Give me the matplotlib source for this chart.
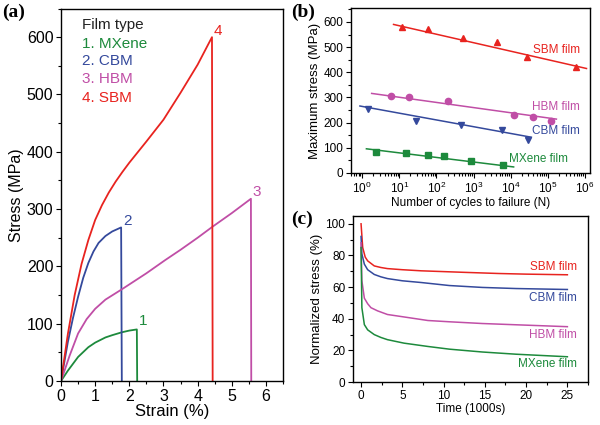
import numpy as np
import matplotlib
matplotlib.use("Agg")
import matplotlib.pyplot as plt
from matplotlib.ticker import MultipleLocator, LogLocator, NullFormatter

plt.rcParams['font.family'] = ['Liberation Sans', 'DejaVu Sans']

GREEN = '#1d8a3c'
BLUE = '#34499c'
MAGENTA = '#c04ea6'
RED = '#e8231f'

# ---------------- (a) stress-strain ----------------
mx_strain = [0, 0.2, 0.5, 0.8, 1.0, 1.3, 1.5, 1.78, 2.0, 2.22, 2.23]
mx_stress = [0, 18, 42, 59, 67, 76, 80, 85, 88, 90, 0]
cbm_strain = [0, 0.2, 0.35, 0.5, 0.65, 0.8, 0.95, 1.1, 1.3, 1.5, 1.76, 1.78]
cbm_stress = [0, 68, 110, 147, 180, 206, 226, 241, 253, 261, 268, 0]
hbm_strain = [0, 0.25, 0.5, 0.75, 1.0, 1.3, 1.78, 2.5, 3.05, 3.5, 4.0, 4.43, 5.0, 5.56, 5.57]
hbm_stress = [0, 44, 83, 108, 126, 142, 160, 188, 211, 229, 250, 269, 293, 318, 0]
sbm_strain = [0, 0.2, 0.4, 0.6, 0.8, 1.0, 1.2, 1.4, 1.6, 1.8, 2.0, 2.5, 3.0, 3.5, 4.0, 4.42, 4.44]
sbm_stress = [0, 82, 150, 204, 246, 281, 307, 329, 348, 365, 381, 418, 456, 503, 552, 600, 0]

# ---------------- (b) fatigue ----------------
sbm_n = [12, 60, 520, 4300, 27000, 570000]
sbm_max = [578, 570, 538, 522, 459, 422]
sbm_fit_n = [7, 1.1e6]
sbm_fit_s = [590, 415]
hbm_n = [5.8, 18, 210, 12500, 41000, 120000]
hbm_max = [306, 303, 284, 231, 222, 208]
hbm_fit_n = [1.8, 1.7e5]
hbm_fit_s = [316, 214]
cbm_n = [1.45, 28, 450, 6000, 30000]
cbm_max = [255, 208, 189, 171, 129]
cbm_fit_n = [0.87, 3.6e4]
cbm_fit_s = [266, 142]
mx_n = [2.3, 15, 59, 160, 870, 6200]
mx_max = [83, 78, 70, 67, 49, 32]
mx_fit_n = [1.3, 1.2e4]
mx_fit_s = [96, 24]

# ---------------- (c) stress relaxation ----------------
sbm_t = [0, 0.2, 0.5, 0.8, 1.6, 2.4, 3.2, 5.0, 7.3, 10.0, 12.7, 16.7, 20.0, 25.0]
sbm_rel = [100, 85, 79, 76.6, 73.4, 72.4, 71.7, 71.0, 70.3, 69.8, 69.3, 68.6, 68.2, 67.8]
cbm_t = [0, 0.1, 0.4, 0.8, 1.6, 2.4, 3.2, 5.0, 7.3, 10.7, 14.7, 18.8, 25.0]
cbm_rel = [92, 81, 74.5, 71, 68, 66.5, 65.4, 64.0, 62.9, 61.0, 59.8, 59.1, 58.5]
hbm_t = [0, 0.1, 0.4, 0.8, 1.2, 2.0, 3.2, 5.4, 8.1, 10.7, 14.7, 18.8, 25.0]
hbm_rel = [88, 64, 53, 49.5, 47, 45, 42.7, 41.0, 38.9, 38.1, 37, 36.2, 35.0]
mx_t = [0, 0.1, 0.4, 0.8, 1.6, 2.4, 3.2, 5.2, 8.1, 10.7, 14.7, 18.8, 25.0]
mx_rel = [85, 47, 36.3, 33, 30, 28.2, 26.8, 24.6, 22.5, 20.8, 19.0, 17.6, 16.0]

fig = plt.figure(figsize=(6, 4.25), dpi=100)


def style_axis(ax, size):
    for sp in ax.spines.values():
        sp.set_linewidth(1.0)
    ax.tick_params(which='both', direction='out', labelsize=size, width=0.8, pad=2)
    ax.tick_params(which='major', length=3.5)
    ax.tick_params(which='minor', length=2)


# panel (a)
ax1 = fig.add_axes([0.1017, 0.1035, 0.37, 0.8765])
ax1.plot(mx_strain, mx_stress, color=GREEN, lw=1.3)
ax1.plot(cbm_strain, cbm_stress, color=BLUE, lw=1.3)
ax1.plot(hbm_strain, hbm_stress, color=MAGENTA, lw=1.3)
ax1.plot(sbm_strain, sbm_stress, color=RED, lw=1.3)
ax1.set_xlim(0, 6.5)
ax1.set_ylim(0, 650)
ax1.xaxis.set_major_locator(MultipleLocator(1))
ax1.xaxis.set_minor_locator(MultipleLocator(0.5))
ax1.yaxis.set_major_locator(MultipleLocator(100))
ax1.yaxis.set_minor_locator(MultipleLocator(50))
style_axis(ax1, 11.5)
ax1.set_xlabel('Strain (%)', fontsize=12, labelpad=0)
ax1.set_ylabel('Stress (MPa)', fontsize=11.5, labelpad=2)
ax1.text(2.28, 97, '1', color=GREEN, fontsize=11)
ax1.text(1.83, 272, '2', color=BLUE, fontsize=11)
ax1.text(5.6, 322, '3', color=MAGENTA, fontsize=11)
ax1.text(4.48, 603, '4', color=RED, fontsize=11)
ax1.text(0.6, 621, 'Film type', color='#222222', fontsize=11, va='center')
ax1.text(0.6, 588, '1. MXene', color=GREEN, fontsize=11, va='center')
ax1.text(0.6, 558, '2. CBM', color=BLUE, fontsize=11, va='center')
ax1.text(0.6, 527, '3. HBM', color=MAGENTA, fontsize=11, va='center')
ax1.text(0.6, 493, '4. SBM', color=RED, fontsize=11, va='center')
fig.text(0.003, 0.972, '(a)', fontsize=14, fontweight='bold',
         family=['Liberation Serif', 'DejaVu Serif'], va='center')

# panel (b)
ax2 = fig.add_axes([0.585, 0.593, 0.398, 0.388])
ax2.plot(sbm_fit_n, sbm_fit_s, color=RED, lw=1.1)
ax2.plot(sbm_n, sbm_max, '^', color=RED, ms=4.5)
ax2.plot(hbm_fit_n, hbm_fit_s, color=MAGENTA, lw=1.1)
ax2.plot(hbm_n, hbm_max, 'o', color=MAGENTA, ms=4.5)
ax2.plot(cbm_fit_n, cbm_fit_s, color=BLUE, lw=1.1)
ax2.plot(cbm_n, cbm_max, 'v', color=BLUE, ms=4.5)
ax2.plot(mx_fit_n, mx_fit_s, color=GREEN, lw=1.1)
ax2.plot(mx_n, mx_max, 's', color=GREEN, ms=3.8)
ax2.set_xscale('log')
ax2.set_xlim(0.5, 1.35e6)
ax2.set_ylim(0, 655)
ax2.xaxis.set_major_locator(LogLocator(base=10, numticks=10))
ax2.xaxis.set_minor_locator(LogLocator(base=10, subs=np.arange(2, 10), numticks=10))
ax2.xaxis.set_minor_formatter(NullFormatter())
ax2.yaxis.set_major_locator(MultipleLocator(100))
ax2.yaxis.set_minor_locator(MultipleLocator(50))
style_axis(ax2, 8.5)
ax2.set_xlabel('Number of cycles to failure (N)', fontsize=8.5, labelpad=1)
ax2.set_ylabel('Maximum stress (MPa)', fontsize=9.5, labelpad=2)
ax2.text(1.7e5, 490, 'SBM film', color=RED, fontsize=8.5, ha='center', va='center')
ax2.text(1.7e5, 261, 'HBM film', color=MAGENTA, fontsize=8.5, ha='center', va='center')
ax2.text(1.7e5, 165, 'CBM film', color=BLUE, fontsize=8.5, ha='center', va='center')
ax2.text(5.5e4, 55, 'MXene film', color=GREEN, fontsize=8.5, ha='center', va='center')
fig.text(0.485, 0.972, '(b)', fontsize=14, fontweight='bold',
         family=['Liberation Serif', 'DejaVu Serif'], va='center')

# panel (c)
ax3 = fig.add_axes([0.588, 0.101, 0.392, 0.391])
ax3.plot(sbm_t, sbm_rel, color=RED, lw=1.1)
ax3.plot(cbm_t, cbm_rel, color=BLUE, lw=1.1)
ax3.plot(hbm_t, hbm_rel, color=MAGENTA, lw=1.1)
ax3.plot(mx_t, mx_rel, color=GREEN, lw=1.1)
ax3.set_xlim(-1, 27.5)
ax3.set_ylim(0, 105)
ax3.xaxis.set_major_locator(MultipleLocator(5))
ax3.xaxis.set_minor_locator(MultipleLocator(2.5))
ax3.yaxis.set_major_locator(MultipleLocator(20))
ax3.yaxis.set_minor_locator(MultipleLocator(10))
style_axis(ax3, 8.5)
ax3.set_xlabel('Time (1000s)', fontsize=8.5, labelpad=1)
ax3.set_ylabel('Normalized stress (%)', fontsize=9.5, labelpad=2)
ax3.text(26.2, 73, 'SBM film', color=RED, fontsize=8.5, ha='right', va='center')
ax3.text(26.2, 53, 'CBM film', color=BLUE, fontsize=8.5, ha='right', va='center')
ax3.text(26.2, 29.5, 'HBM film', color=MAGENTA, fontsize=8.5, ha='right', va='center')
ax3.text(26.2, 11.4, 'MXene film', color=GREEN, fontsize=8.5, ha='right', va='center')
fig.text(0.485, 0.485, '(c)', fontsize=14, fontweight='bold',
         family=['Liberation Serif', 'DejaVu Serif'], va='center')

fig.savefig('out.png', dpi=100)
